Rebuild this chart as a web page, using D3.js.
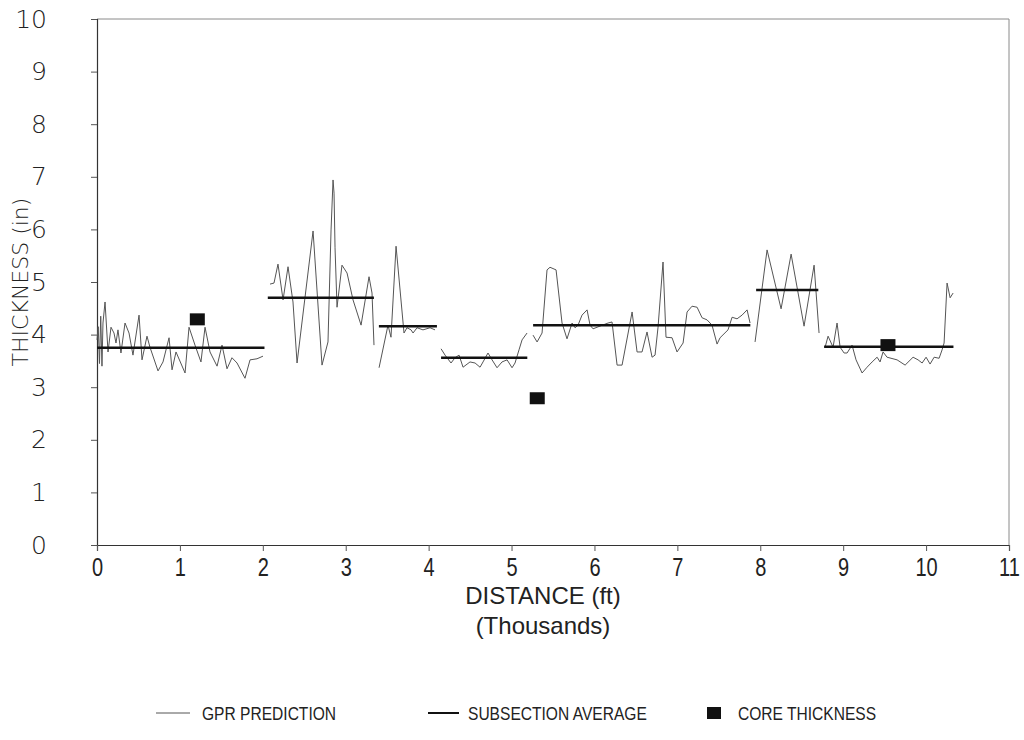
<!DOCTYPE html>
<html>
<head>
<meta charset="utf-8">
<script src="https://cdn.jsdelivr.net/npm/d3@7"></script>
<style>
  html, body { margin: 0; padding: 0; background: #fff; }
  svg { display: block; }
  .ytick text { font-family: "DejaVu Sans", sans-serif; font-weight: 200; font-size: 25px; fill: #222; }
  .xtick text { font-family: "Liberation Sans", sans-serif; font-size: 25px; fill: #222; }
  .title { font-family: "Liberation Sans", sans-serif; font-size: 24px; fill: #222; }
  .ytitle { font-family: "DejaVu Sans", sans-serif; font-weight: 200; font-size: 22px; fill: #222; }
  .legend text { font-family: "Liberation Sans", sans-serif; font-size: 19px; fill: #222; }
</style>
</head>
<body>
<script>
// Axis ticks
const xTickValues = [0, 1, 2, 3, 4, 5, 6, 7, 8, 9, 10, 11];
const yTickValues = [0, 1, 2, 3, 4, 5, 6, 7, 8, 9, 10];

// GPR predicted thickness (in) vs distance (thousands of ft), one array per subsection
const gprSection1 = [[0.000,3.90],[0.015,4.15],[0.030,3.45],[0.045,4.35],[0.060,3.40],[0.072,4.22],[0.097,4.62],[0.133,3.67],[0.169,4.14],[0.205,4.03],[0.229,3.84],[0.253,4.09],[0.289,3.65],[0.338,4.22],[0.386,4.03],[0.434,3.61],[0.507,4.37],[0.543,3.52],[0.603,3.97],[0.639,3.76],[0.736,3.31],[0.796,3.48],[0.869,3.94],[0.905,3.33],[0.953,3.67],[1.062,3.27],[1.110,4.14],[1.182,3.80],[1.254,3.48],[1.303,4.14],[1.363,3.67],[1.448,3.40],[1.508,3.80],[1.568,3.35],[1.628,3.56],[1.689,3.46],[1.785,3.17],[1.846,3.52],[1.930,3.54],[2.002,3.59]];
const gprSection2 = [[2.087,4.96],[2.135,4.98],[2.183,5.34],[2.244,4.66],[2.304,5.29],[2.364,4.62],[2.413,3.46],[2.606,5.97],[2.714,3.42],[2.786,3.86],[2.823,5.99],[2.847,6.94],[2.859,6.69],[2.871,5.65],[2.895,4.52],[2.955,5.32],[3.016,5.17],[3.088,4.66],[3.185,4.18],[3.281,5.10],[3.317,4.79],[3.341,3.80]];
const gprSection3 = [[3.402,3.37],[3.510,4.18],[3.546,3.95],[3.607,5.68],[3.703,4.03],[3.739,4.13],[3.788,4.09],[3.812,4.03],[3.860,4.13],[3.932,4.09],[4.017,4.13],[4.077,4.09]];
const gprSection4 = [[4.150,3.73],[4.198,3.61],[4.270,3.46],[4.318,3.56],[4.367,3.61],[4.415,3.38],[4.499,3.48],[4.560,3.46],[4.620,3.38],[4.656,3.48],[4.716,3.65],[4.765,3.52],[4.825,3.37],[4.885,3.48],[4.946,3.52],[5.006,3.37],[5.042,3.46],[5.090,3.71],[5.127,3.90],[5.187,4.03]];
const gprSection5 = [[5.259,3.99],[5.308,3.86],[5.368,4.03],[5.428,5.23],[5.464,5.28],[5.537,5.23],[5.609,4.22],[5.669,3.92],[5.730,4.22],[5.766,4.13],[5.802,4.18],[5.850,4.37],[5.911,4.47],[5.947,4.18],[5.983,4.11],[6.031,4.14],[6.164,4.22],[6.212,4.24],[6.273,3.42],[6.333,3.42],[6.454,4.43],[6.514,3.67],[6.574,3.67],[6.634,4.05],[6.695,3.57],[6.731,3.61],[6.767,4.14],[6.827,5.38],[6.863,3.95],[6.936,3.94],[6.996,3.67],[7.069,3.84],[7.117,4.43],[7.177,4.54],[7.238,4.52],[7.298,4.32],[7.358,4.28],[7.418,4.18],[7.479,3.82],[7.515,3.94],[7.611,4.09],[7.660,4.33],[7.720,4.30],[7.780,4.37],[7.841,4.47],[7.877,4.22]];
const gprSection6 = [[7.937,3.86],[8.082,5.61],[8.251,4.49],[8.372,5.53],[8.528,4.16],[8.649,5.32],[8.709,4.03]];
const gprSection7 = [[8.782,3.76],[8.818,3.97],[8.878,3.76],[8.926,4.22],[8.963,3.76],[9.011,3.65],[9.047,3.65],[9.107,3.80],[9.155,3.52],[9.228,3.27],[9.288,3.38],[9.349,3.48],[9.409,3.57],[9.445,3.48],[9.481,3.67],[9.529,3.57],[9.650,3.52],[9.747,3.42],[9.843,3.57],[9.903,3.52],[9.952,3.46],[10.000,3.57],[10.048,3.44],[10.097,3.57],[10.157,3.55],[10.193,3.71],[10.217,3.84],[10.253,4.98],[10.290,4.70],[10.326,4.79]];

// Subsection averages: start, end and mean thickness
const avgStart = [0.00, 2.06, 3.40, 4.15, 5.26, 7.95, 8.77];
const avgEnd   = [2.02, 3.34, 4.10, 5.19, 7.88, 8.70, 10.33];
const avgValue = [3.75, 4.70, 4.16, 3.56, 4.18, 4.85, 3.77];

// Core samples
const coreDistance  = [1.21, 5.31, 9.54];
const coreThickness = [4.29, 2.79, 3.80];

// Legend entries
const legendLabels = ["GPR PREDICTION", "SUBSECTION AVERAGE", "CORE THICKNESS"];

const width = 1024, height = 740;
const margin = { top: 19, right: 15, bottom: 195, left: 97 };

const svg = d3.select("body").append("svg")
  .attr("width", width).attr("height", height);

const x = d3.scaleLinear().domain([0, 11]).range([margin.left, width - margin.right]);
const y = d3.scaleLinear().domain([0, 10]).range([height - margin.bottom, margin.top]);

// Frame: top and right edges
svg.append("path")
  .attr("d", `M${x(0)},${y(10)}H${x(11)}V${y(0)}`)
  .attr("fill", "none").attr("stroke", "#8a8a8a").attr("stroke-width", 1);

// Axes
const yAxis = svg.append("g")
  .attr("class", "ytick")
  .attr("transform", `translate(${x(0)},0)`)
  .call(d3.axisLeft(y).tickValues(yTickValues).tickSize(6).tickPadding(44).tickFormat(d3.format("d")));
const xAxis = svg.append("g")
  .attr("class", "xtick")
  .attr("transform", `translate(0,${y(0)})`)
  .call(d3.axisBottom(x).tickValues(xTickValues).tickSize(6).tickPadding(7).tickFormat(d3.format("d")));
// narrow, tall digits along the distance axis
xAxis.selectAll(".tick text").attr("transform", "scale(0.8,1)");
[yAxis, xAxis].forEach(g => {
  g.select(".domain").attr("stroke", "#333").attr("stroke-width", 1.2);
  g.selectAll(".tick line").attr("stroke", "#555");
});

// Axis titles
svg.append("text").attr("class", "ytitle")
  .attr("transform", `translate(28,${(y(0) + y(10)) / 2}) rotate(-90)`)
  .attr("text-anchor", "middle")
  .text("THICKNESS (in)");
svg.append("text").attr("class", "title")
  .attr("x", 543).attr("y", 604).attr("text-anchor", "middle")
  .text("DISTANCE (ft)");
svg.append("text").attr("class", "title")
  .attr("x", 543).attr("y", 634).attr("text-anchor", "middle")
  .text("(Thousands)");

// GPR prediction lines
const line = d3.line().x(d => x(d[0])).y(d => y(d[1]));
const gprSections = [gprSection1, gprSection2, gprSection3, gprSection4, gprSection5, gprSection6, gprSection7];
svg.append("g").selectAll("path").data(gprSections).join("path")
  .attr("d", line)
  .attr("fill", "none").attr("stroke", "#555").attr("stroke-width", 1);

// Subsection averages
svg.append("g").selectAll("line").data(avgValue).join("line")
  .attr("x1", (d, i) => x(avgStart[i])).attr("x2", (d, i) => x(avgEnd[i]))
  .attr("y1", d => y(d)).attr("y2", d => y(d))
  .attr("stroke", "#111").attr("stroke-width", 2.5);

// Core thickness markers
const sqW = 15, sqH = 12;
svg.append("g").selectAll("rect").data(coreThickness).join("rect")
  .attr("x", (d, i) => x(coreDistance[i]) - sqW / 2)
  .attr("y", d => y(d) - sqH / 2)
  .attr("width", sqW).attr("height", sqH)
  .attr("fill", "#111");

// Legend
const lg = svg.append("g").attr("class", "legend");
const ly = 713;
const legendText = (px, label) => lg.append("text")
  .attr("transform", `translate(${px},${ly + 7}) scale(0.82,1)`)
  .text(label);
lg.append("line").attr("x1", 156).attr("x2", 190).attr("y1", ly).attr("y2", ly)
  .attr("stroke", "#555").attr("stroke-width", 1);
legendText(202, legendLabels[0]);
lg.append("line").attr("x1", 428).attr("x2", 459).attr("y1", ly).attr("y2", ly)
  .attr("stroke", "#111").attr("stroke-width", 2);
legendText(468, legendLabels[1]);
lg.append("rect").attr("x", 707).attr("y", ly - 6).attr("width", 14).attr("height", 12).attr("fill", "#111");
legendText(738, legendLabels[2]);
</script>
</body>
</html>
